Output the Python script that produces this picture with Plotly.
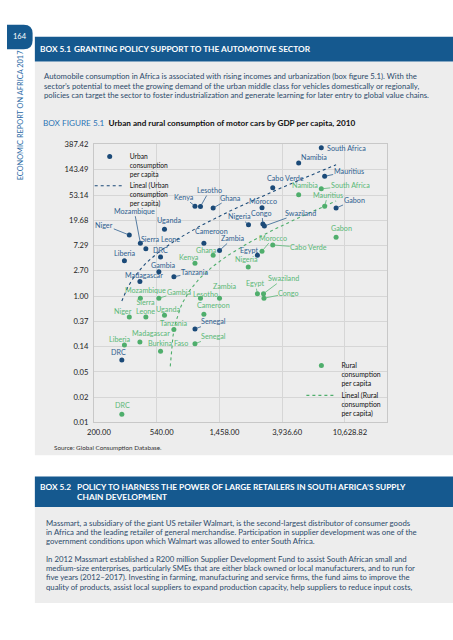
import numpy as np
import plotly.graph_objects as go

W, H = 453, 640
FONT = "Lato"

# ---------------- data ----------------
urban_countries = ["South Africa", "Namibia", "Mauritius", "Cabo Verde", "Gabon", "Morocco",
                   "Nigeria", "Congo", "Swaziland", "Kenya", "Lesotho", "Ghana", "Uganda",
                   "Niger", "Mozambique", "Sierra Leone", "DRC", "Liberia", "Cameroon",
                   "Zambia", "Egypt", "Gambia", "Madagascar", "Tanzania", "Senegal", "DRC"]
urban_gdp = [7310, 5110, 7710, 3390, 9240, 2860, 2310, 2900, 2970, 990, 1080, 1320, 611,
             350, 417, 455, 574, 324, 1140, 1460, 2660, 559, 414, 709, 990, 311]
urban_cons = [341, 188, 111, 70.5, 31.8, 32.2, 16.5, 17.0, 15.7, 34.3, 33.8, 31.8, 13.9,
              11.0, 8.0, 6.45, 4.64, 4.02, 8.0, 6.0, 5.0, 2.6, 1.78, 2.14, 0.275, 0.081]

rural_countries = ["South Africa", "Namibia", "Mauritius", "Gabon", "Cabo Verde", "Morocco",
                   "Nigeria", "Egypt", "Swaziland", "Congo", "Ghana", "Kenya", "Mozambique",
                   "Gambia", "Lesotho", "Zambia", "Cameroon", "Niger", "Sierra<br>Leone",
                   "Uganda", "Tanzania", "Senegal", "Madagascar", "Burkina Faso", "Liberia", "DRC"]
rural_gdp = [7310, 5110, 7710, 9240, 3390, 2860, 2300, 2660, 2930, 2950, 1320, 990, 417,
             559, 1080, 1460, 1140, 350, 455, 611, 709, 990, 414, 574, 324, 311]
rural_cons = [67.8, 53.8, 34.3, 10.1, 7.47, 5.85, 3.15, 1.10, 1.10, 0.92, 4.96, 3.64, 0.92,
              0.92, 0.92, 0.92, 0.49, 0.44, 0.44, 0.47, 0.27, 0.154, 0.164, 0.114, 0.146, 0.0096]

x_tick_values = [200.00, 540.00, 1458.00, 3936.60, 10628.82]
x_tick_labels = ["200.00", "540.00", "1,458.00", "3,936.60", "10,628.82"]
y_tick_values = [0.0069736, 0.0188286, 0.0508373, 0.1371742, 0.3703704, 1.0, 2.7, 7.29,
                 19.683, 53.1441, 143.48907, 387.420489]
y_tick_labels = ["0.01", "0.02", "0.05", "0.14", "0.37", "1.00", "2.70", "7.29", "19.68",
                 "53.14", "143.49", "387.42"]

# label placement (pixel offset of label centre from point, leader line flag)
urban_label_pos = [(25, 1, 0), (15, -5, 0), (24, -5, 1), (13, -9, 0), (18, -8, 1), (1, -6, 0),
                   (-9, -8, 1), (-1, -11, 1), (36, -13, 1), (-11, -9, 1), (9, -16, 1), (17, -10, 1),
                   (5, -9, 0), (-25, -10, 1), (-6, -32, 1), (15, -9, 0), (0, -7, 0), (1, -7, 0),
                   (8, -12, 0), (13, -12, 1), (-8, -5, 0), (4, -6, 0), (4, -6, 0), (21, -4, 1),
                   (19, -7, 1), (-3, -7, 0)]
rural_label_pos = [(29, -3, 1), (6, -9, 0), (3, -11, 1), (5, -9, 0), (36, 3, 1), (11, -13, 1),
                   (-2, -7, 0), (-2, -10, 1), (20, -15, 1), (25, -5, 1), (-7, -5, 0), (-6, -6, 0),
                   (5, -8, 0), (20, -6, 1), (5, -4, 0), (5, -12, 0), (10, -9, 0), (-6, -5, 0),
                   (0, -10, 0), (4, -6, 0), (0, -6, 0), (19, -7, 1), (11, -9, 0), (7, -8, 0),
                   (-4, -6, 0), (1, -9, 0)]

URBAN_DOT, URBAN_TXT = "#1b4a78", "#2f5f8f"
RURAL_DOT, RURAL_TXT = "#4fae6c", "#5ab877"
BOX_GRAY = "#ededed"
BAND = "#15598f"
BODY = "#2c4a6b"


def px(x):
    return x / W


def py(y):
    return 1 - y / H


def trend(xs, ys):
    b, a = np.polyfit(np.array(xs, float), np.array(ys, float), 1)
    xx = np.linspace(min(xs), max(xs), 300)
    yy = a + b * xx
    keep = yy > 0
    return xx[keep], yy[keep]


fig = go.Figure()

fig.add_trace(go.Scatter(x=urban_gdp, y=urban_cons, mode="markers",
                         marker=dict(color=URBAN_DOT, size=5),
                         name="Urban<br>consumption<br>per capita", legend="legend"))
ux, uy = trend(urban_gdp, urban_cons)
fig.add_trace(go.Scatter(x=ux, y=uy, mode="lines", line=dict(color=URBAN_DOT, width=1.1, dash="dot"),
                         name="Lineal (Urban<br>consumption<br>per capita)", legend="legend"))
fig.add_trace(go.Scatter(x=rural_gdp, y=rural_cons, mode="markers",
                         marker=dict(color=RURAL_DOT, size=5),
                         name="Rural<br>consumption<br>per capita", legend="legend2"))
rx, ry = trend(rural_gdp, rural_cons)
fig.add_trace(go.Scatter(x=rx, y=ry, mode="lines", line=dict(color=RURAL_DOT, width=1.1, dash="dot"),
                         name="Lineal (Rural<br>consumption<br>per capita)", legend="legend2"))

annotations = []


def label_ann(x, y, text, pos, color):
    dx, dy, leader = pos
    common = dict(x=np.log10(x), y=np.log10(y), xref="x", yref="y", text=text,
                  font=dict(family=FONT, size=7.2, color=color), borderpad=0)
    if leader:
        return dict(**common, showarrow=True, ax=dx, ay=dy, arrowhead=0, arrowwidth=0.8,
                    arrowcolor=color, standoff=1.5)
    return dict(**common, showarrow=False, xshift=dx, yshift=-dy)


for c, x, y, p in zip(urban_countries, urban_gdp, urban_cons, urban_label_pos):
    annotations.append(label_ann(x, y, c, p, URBAN_TXT))
for c, x, y, p in zip(rural_countries, rural_gdp, rural_cons, rural_label_pos):
    annotations.append(label_ann(x, y, c, p, RURAL_TXT))


def txt(x, y, text, size=7.4, color=BODY, anchor="left", **kw):
    annotations.append(dict(x=px(x), y=py(y), xref="paper", yref="paper", text=text,
                            showarrow=False, xanchor=anchor, yanchor="middle",
                            font=dict(family=FONT, size=size, color=color), borderpad=0, **kw))


# page furniture
txt(13, 32.5, "164", size=7.5, color="white", anchor="center")
txt(13.3, 112, "ECONOMIC REPORT ON AFRICA 2017", size=7.4, color="#2a6aa5", anchor="center",
    textangle=-90)
txt(32.5, 45, "<b>BOX 5.1</b>", size=8.3, color="white")
txt(67, 45, "<b>GRANTING POLICY SUPPORT TO THE AUTOMOTIVE SECTOR</b>", size=8.3, color="white")
body1 = ["Automobile consumption in Africa is associated with rising incomes and urbanization (box figure 5.1). With the",
         "sector’s potential to meet the growing demand of the urban middle class for vehicles domestically or regionally,",
         "policies can target the sector to foster industrialization and generate learning for later entry to global value chains."]
for i, line in enumerate(body1):
    txt(36.5, 72 + 9.9 * i, line, size=7.75)
txt(36, 120, "<span style='color:#2e75b6'>BOX FIGURE 5.1</span>  <b>Urban and rural consumption of motor cars by GDP per capita, 2010</b>",
    size=8.2, color="#111111")
txt(47, 449.5, "Source: Global Consumption Database.", size=6.3, color="#333333")

txt(32.5, 489.5, "<b>BOX 5.2</b>", size=8.3, color="white")
txt(70.5, 489.5, "<b>POLICY TO HARNESS THE POWER OF LARGE RETAILERS IN SOUTH AFRICA’S SUPPLY</b>", size=8.3, color="white")
txt(70.5, 499.5, "<b>CHAIN DEVELOPMENT</b>", size=8.3, color="white")
body2a = ["Massmart, a subsidiary of the giant US retailer Walmart, is the second-largest distributor of consumer goods",
          "in Africa and the leading retailer of general merchandise. Participation in supplier development was one of the",
          "government conditions upon which Walmart was allowed to enter South Africa."]
body2b = ["In 2012 Massmart established a R200 million Supplier Development Fund to assist South African small and",
          "medium-size enterprises, particularly SMEs that are either black owned or local manufacturers, and to run for",
          "five years (2012–2017). Investing in farming, manufacturing and service firms, the fund aims to improve the",
          "quality of products, assist local suppliers to expand production capacity, help suppliers to reduce input costs,"]
for i, line in enumerate(body2a):
    txt(38.5, 526 + 9.5 * i, line, size=7.75)
for i, line in enumerate(body2b):
    txt(38.5, 562.5 + 9.5 * i, line, size=7.75)

# background shapes
shapes = []


def rect(x0, y0, x1, y1, color):
    shapes.append(dict(type="rect", xref="paper", yref="paper", x0=px(x0), x1=px(x1),
                       y0=py(y1), y1=py(y0), fillcolor=color, line=dict(width=0), layer="below"))


rect(28.3, 57.3, 453, 457.5, BOX_GRAY)
rect(28.3, 32.3, 453, 57.3, BAND)
rect(28.3, 510, 453, 607.5, BOX_GRAY)
rect(28.3, 479, 453, 510, BAND)
# page-number tab with rounded right side
r = 9
x0, x1, y0, y1 = 0, 26, 20, 45
path = (f"M {px(x0)},{py(y0)} L {px(x1 - r)},{py(y0)} Q {px(x1)},{py(y0)} {px(x1)},{py(y0 + r)} "
        f"L {px(x1)},{py(y1 - r)} Q {px(x1)},{py(y1)} {px(x1 - r)},{py(y1)} L {px(x0)},{py(y1)} Z")
shapes.append(dict(type="path", xref="paper", yref="paper", path=path, fillcolor=BAND,
                   line=dict(width=0), layer="below"))

fig.update_layout(
    width=W, height=H, autosize=False,
    margin=dict(l=0, r=0, t=0, b=0, pad=0),
    paper_bgcolor="white", plot_bgcolor=BOX_GRAY,
    font=dict(family=FONT, size=7.5, color="#222222"),
    shapes=shapes, annotations=annotations,
    xaxis=dict(type="log", domain=[px(88.3), px(385.7)],
               range=[np.log10(x_tick_values[0]), np.log10(20600)],
               tickvals=x_tick_values, ticktext=x_tick_labels,
               showgrid=True, gridcolor="#d6d6d6", gridwidth=1,
               showline=True, linecolor="#c8c8c8", linewidth=1, mirror=True,
               zeroline=False, ticks="", ticklabelshift=5, ticklabelstandoff=3,
               tickfont=dict(size=7.6, color="#222222")),
    yaxis=dict(type="log", domain=[py(424), py(141.7)],
               range=[np.log10(y_tick_values[0]), np.log10(y_tick_values[-1])],
               tickvals=y_tick_values, ticktext=y_tick_labels,
               showgrid=True, gridcolor="#d6d6d6", gridwidth=1,
               showline=True, linecolor="#c8c8c8", linewidth=1, mirror=True,
               zeroline=False, ticks="", ticklabelstandoff=3,
               tickfont=dict(size=7.6, color="#222222")),
    legend=dict(x=px(84), y=py(143), xanchor="left", yanchor="top", bgcolor="rgba(0,0,0,0)",
                font=dict(family=FONT, size=6.7, color="#111111"), itemwidth=30,
                tracegroupgap=0, valign="top", borderwidth=0),
    legend2=dict(x=px(299), y=py(355), xanchor="left", yanchor="top", bgcolor="rgba(0,0,0,0)",
                 font=dict(family=FONT, size=6.9, color="#111111"), itemwidth=30,
                 tracegroupgap=0, valign="top", borderwidth=0),
)

fig.write_html("out.html", config={"displayModeBar": False},
               post_script="document.body.style.margin='0';document.body.style.overflow='hidden';")
